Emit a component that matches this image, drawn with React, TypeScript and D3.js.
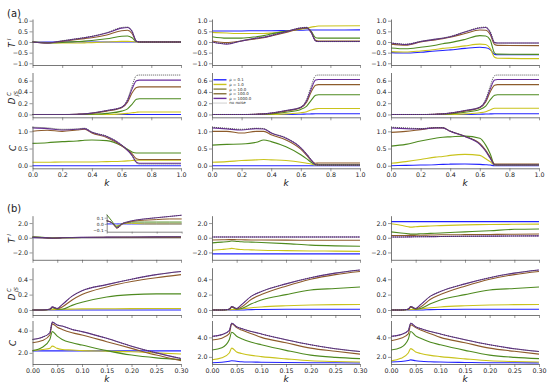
import React, { useEffect, useRef } from "react";
import * as d3 from "d3";

const SERIES = ["ρ = 0.1", "ρ = 1.0", "ρ = 10.0", "ρ = 100.0", "ρ = 1000.0", "no noise"];
const COLORS = ["#2222ff", "#c9c31c", "#4e8a1f", "#8d5b2b", "#6a2e9c", "#444444"];
const LEGEND_COLORS = ["#2222ff", "#c9c31c", "#8a8440", "#86703a", "#6a2e9c", "#888888"];

const kA = [0, 0.1, 0.2, 0.3, 0.35, 0.4, 0.5, 0.6, 0.64, 0.67, 0.7, 0.72, 1.0];
const kB = [0, 0.02, 0.035, 0.04, 0.05, 0.06, 0.08, 0.1, 0.15, 0.2, 0.25, 0.3];

const xTicksA = [0, 0.2, 0.4, 0.6, 0.8, 1.0];
const xTicksB = [0, 0.05, 0.1, 0.15, 0.2, 0.25, 0.3];
const yTicksAT = [-1, -0.5, 0, 0.5, 1];
const yTicksAD = [0, 0.2, 0.4, 0.6];
const yTicksAC = [0, 0.5, 1];
const yTicksBT = [-2, 0, 2];
const yTicksBD = [0, 0.2, 0.4];
const yTicksBC = [2, 4];
const yTicksInset = [-0.1, 0, 0.1];

// (a) T^I
const aT1 = [
  [0, 0, 0, 0, 0, 0, 0, 0, 0, 0, 0, 0, 0],
  [0, -0.03, -0.05, -0.05, -0.04, -0.03, 0, 0.03, 0.03, 0.02, 0, 0, 0],
  [0, -0.04, -0.02, 0.02, 0.04, 0.07, 0.15, 0.27, 0.28, 0.2, 0.02, 0, 0],
  [0, -0.05, 0.03, 0.12, 0.16, 0.2, 0.33, 0.53, 0.55, 0.4, 0.03, 0, 0],
  [0, -0.05, 0.05, 0.15, 0.2, 0.26, 0.42, 0.65, 0.68, 0.5, 0.03, 0, 0],
  [0, -0.04, 0.06, 0.16, 0.21, 0.27, 0.44, 0.68, 0.7, 0.52, 0.03, 0, 0],
];
const aT2 = [
  [0.52, 0.52, 0.52, 0.53, 0.53, 0.53, 0.54, 0.55, 0.56, 0.56, 0.56, 0.56, 0.57],
  [0.45, 0.42, 0.4, 0.4, 0.4, 0.42, 0.5, 0.6, 0.65, 0.7, 0.73, 0.75, 0.76],
  [0.25, 0.18, 0.18, 0.25, 0.3, 0.38, 0.5, 0.62, 0.65, 0.5, 0.2, 0.18, 0.18],
  [0.05, -0.03, 0.05, 0.15, 0.2, 0.28, 0.45, 0.63, 0.66, 0.45, 0.08, 0.05, 0.05],
  [0.0, -0.1, 0.05, 0.18, 0.22, 0.3, 0.48, 0.66, 0.68, 0.45, 0.05, 0.02, 0.02],
  [0.0, -0.08, 0.06, 0.19, 0.23, 0.31, 0.49, 0.67, 0.69, 0.5, 0.05, 0.02, 0.02],
];
const aT3 = [
  [-0.5, -0.52, -0.48, -0.42, -0.4, -0.37, -0.3, -0.25, -0.27, -0.35, -0.58, -0.6, -0.6],
  [-0.45, -0.47, -0.42, -0.35, -0.3, -0.27, -0.18, -0.1, -0.12, -0.3, -0.72, -0.76, -0.78],
  [-0.28, -0.32, -0.25, -0.15, -0.08, -0.03, 0.12, 0.3, 0.28, 0.1, -0.52, -0.57, -0.58],
  [-0.1, -0.15, 0.0, 0.1, 0.15, 0.22, 0.4, 0.56, 0.55, 0.35, -0.12, -0.16, -0.17],
  [-0.05, -0.12, 0.02, 0.13, 0.18, 0.25, 0.47, 0.66, 0.68, 0.45, -0.03, -0.05, -0.05],
  [-0.04, -0.1, 0.03, 0.14, 0.19, 0.26, 0.48, 0.68, 0.7, 0.5, -0.02, -0.05, -0.05],
];
// (a) D_JS^C
const aD1 = [
  [0, 0, 0, 0, 0, 0, 0, 0, 0, 0, 0, 0, 0],
  [0, 0, 0, 0, 0, 0, 0, 0.01, 0.02, 0.03, 0.04, 0.045, 0.045],
  [0, 0, 0, 0, 0, 0.005, 0.02, 0.06, 0.1, 0.18, 0.27, 0.28, 0.28],
  [0, 0, 0, 0.005, 0.01, 0.02, 0.06, 0.12, 0.22, 0.38, 0.48, 0.49, 0.49],
  [0, 0, 0, 0.005, 0.01, 0.025, 0.07, 0.13, 0.25, 0.45, 0.6, 0.61, 0.61],
  [0, 0, 0, 0.005, 0.01, 0.025, 0.07, 0.13, 0.27, 0.5, 0.69, 0.7, 0.7],
];
const aD2 = [
  [0, 0, 0, 0, 0, 0, 0, 0.005, 0.008, 0.01, 0.012, 0.012, 0.012],
  [0, 0, 0, 0, 0, 0, 0.01, 0.03, 0.05, 0.08, 0.1, 0.105, 0.105],
  [0, 0, 0, 0, 0.005, 0.01, 0.04, 0.09, 0.15, 0.25, 0.34, 0.35, 0.35],
  [0, 0, 0, 0.005, 0.01, 0.02, 0.06, 0.12, 0.22, 0.4, 0.52, 0.53, 0.53],
  [0, 0, 0, 0.005, 0.01, 0.025, 0.07, 0.13, 0.25, 0.45, 0.61, 0.62, 0.62],
  [0, 0, 0, 0.005, 0.01, 0.025, 0.07, 0.13, 0.27, 0.5, 0.69, 0.7, 0.7],
];
const aD3 = [
  [0, 0, 0, 0, 0, 0, 0, 0.005, 0.008, 0.01, 0.012, 0.012, 0.012],
  [0, 0, 0, 0, 0, 0, 0.01, 0.03, 0.05, 0.08, 0.11, 0.11, 0.11],
  [0, 0, 0, 0, 0.005, 0.01, 0.04, 0.09, 0.15, 0.26, 0.34, 0.35, 0.35],
  [0, 0, 0, 0.005, 0.01, 0.02, 0.06, 0.12, 0.22, 0.4, 0.52, 0.53, 0.53],
  [0, 0, 0, 0.005, 0.01, 0.025, 0.07, 0.13, 0.25, 0.45, 0.61, 0.62, 0.62],
  [0, 0, 0, 0.005, 0.01, 0.025, 0.07, 0.13, 0.27, 0.5, 0.69, 0.7, 0.7],
];
// (a) C
const aC1 = [
  [0, 0, 0, 0, 0, 0, 0, 0, 0, 0, 0, 0, 0],
  [0.1, 0.1, 0.11, 0.11, 0.11, 0.11, 0.12, 0.13, 0.14, 0.15, 0.16, 0.16, 0.16],
  [0.65, 0.67, 0.7, 0.72, 0.74, 0.75, 0.73, 0.58, 0.48, 0.4, 0.37, 0.37, 0.37],
  [1.0, 1.03, 1.0, 1.04, 1.06, 0.95, 0.82, 0.58, 0.45, 0.35, 0.2, 0.18, 0.18],
  [1.1, 1.08, 1.04, 1.06, 1.08, 0.97, 0.85, 0.6, 0.45, 0.3, 0.1, 0.07, 0.07],
  [1.12, 1.1, 1.06, 1.07, 1.09, 0.98, 0.86, 0.61, 0.46, 0.3, 0.08, 0.05, 0.05],
];
const aC2 = [
  [0, 0, 0, 0, 0, 0, 0, 0, 0, 0, 0, 0, 0],
  [0.1, 0.12, 0.15, 0.17, 0.18, 0.17, 0.15, 0.1, 0.07, 0.05, 0.02, 0.02, 0.02],
  [0.6, 0.62, 0.63, 0.68, 0.75, 0.7, 0.55, 0.32, 0.2, 0.1, 0.03, 0.03, 0.03],
  [1.0, 1.0, 0.95, 1.0, 1.0, 0.9, 0.75, 0.48, 0.3, 0.15, 0.07, 0.08, 0.08],
  [1.1, 1.07, 1.04, 1.08, 1.07, 0.95, 0.8, 0.52, 0.33, 0.17, 0.03, 0.02, 0.02],
  [1.12, 1.09, 1.06, 1.09, 1.08, 0.96, 0.81, 0.53, 0.34, 0.18, 0.03, 0.02, 0.02],
];
const aC3 = [
  [0.0, 0.01, 0.02, 0.03, 0.04, 0.045, 0.05, 0.04, 0.03, 0.02, 0.0, 0.0, 0.0],
  [0.07, 0.12, 0.18, 0.25, 0.27, 0.3, 0.33, 0.3, 0.2, 0.12, 0.02, 0.02, 0.02],
  [0.57, 0.62, 0.72, 0.8, 0.83, 0.84, 0.86, 0.8, 0.6, 0.35, 0.03, 0.03, 0.03],
  [0.97, 1.0, 1.05, 1.1, 1.1, 1.0, 0.85, 0.65, 0.45, 0.25, 0.05, 0.05, 0.05],
  [1.1, 1.08, 1.07, 1.1, 1.1, 1.0, 0.85, 0.62, 0.42, 0.22, 0.03, 0.02, 0.02],
  [1.12, 1.1, 1.08, 1.11, 1.11, 1.01, 0.86, 0.63, 0.43, 0.23, 0.03, 0.02, 0.02],
];

// (b) T^I
const bT1 = [
  [0, 0, 0, 0, 0, 0, 0, 0, 0, 0, 0, 0],
  [0.05, 0.02, -0.02, -0.03, -0.02, 0, 0.01, 0.01, 0.0, 0.0, 0.0, 0.0],
  [0.15, 0.05, -0.03, -0.04, -0.03, 0, 0.02, 0.03, 0.03, 0.03, 0.03, 0.03],
  [0.05, 0.02, -0.05, -0.07, -0.05, -0.01, 0.02, 0.04, 0.06, 0.07, 0.08, 0.08],
  [0.05, 0.02, -0.04, -0.06, -0.04, 0.0, 0.03, 0.05, 0.08, 0.1, 0.12, 0.14],
  [0.05, 0.02, -0.04, -0.06, -0.04, 0.0, 0.03, 0.05, 0.08, 0.1, 0.12, 0.14],
];
const bT2 = [
  [-2.2, -2.2, -2.2, -2.2, -2.2, -2.2, -2.2, -2.2, -2.2, -2.2, -2.2, -2.2],
  [-1.7, -1.6, -1.5, -1.45, -1.55, -1.6, -1.65, -1.7, -1.75, -1.8, -1.82, -1.85],
  [-0.7, -0.6, -0.5, -0.45, -0.5, -0.55, -0.6, -0.65, -0.8, -1.0, -1.1, -1.15],
  [-0.3, -0.28, -0.25, -0.25, -0.27, -0.28, -0.3, -0.3, -0.32, -0.35, -0.35, -0.35],
  [0.1, 0.1, 0.1, 0.1, 0.1, 0.1, 0.1, 0.1, 0.1, 0.1, 0.1, 0.1],
  [0.1, 0.1, 0.1, 0.1, 0.1, 0.1, 0.1, 0.1, 0.1, 0.1, 0.1, 0.1],
];
const bT3 = [
  [2.2, 2.2, 2.2, 2.2, 2.2, 2.2, 2.2, 2.2, 2.2, 2.2, 2.2, 2.2],
  [1.9, 1.7, 1.5, 1.45, 1.5, 1.55, 1.6, 1.65, 1.75, 1.8, 1.83, 1.85],
  [0.8, 0.65, 0.55, 0.5, 0.5, 0.55, 0.6, 0.65, 0.8, 0.95, 1.15, 1.2],
  [0.3, 0.3, 0.32, 0.32, 0.33, 0.35, 0.37, 0.4, 0.42, 0.45, 0.48, 0.5],
  [0.1, 0.1, 0.12, 0.12, 0.13, 0.14, 0.15, 0.17, 0.2, 0.22, 0.24, 0.25],
  [0.1, 0.1, 0.12, 0.12, 0.13, 0.14, 0.15, 0.17, 0.2, 0.22, 0.24, 0.25],
];
// (b) D_JS^C
const bD1 = [
  [0, 0, 0, 0, 0, 0, 0, 0, 0, 0, 0, 0],
  [0, 0, 0.003, 0.005, 0.008, 0.01, 0.012, 0.014, 0.016, 0.018, 0.019, 0.02],
  [0, 0, 0.01, 0.03, 0.01, 0.01, 0.06, 0.1, 0.17, 0.2, 0.21, 0.21],
  [0, 0, 0.01, 0.035, 0.015, 0.04, 0.13, 0.2, 0.3, 0.37, 0.42, 0.46],
  [0, 0, 0.01, 0.04, 0.02, 0.07, 0.18, 0.25, 0.33, 0.4, 0.46, 0.5],
  [0, 0, 0.01, 0.04, 0.02, 0.07, 0.18, 0.25, 0.33, 0.4, 0.46, 0.5],
];
const bD2 = [
  [0, 0, 0, 0, 0, 0, 0.005, 0.007, 0.01, 0.01, 0.01, 0.01],
  [0, 0, 0.003, 0.006, 0.008, 0.015, 0.03, 0.04, 0.055, 0.065, 0.07, 0.072],
  [0, 0, 0.01, 0.035, 0.012, 0.02, 0.08, 0.13, 0.2, 0.26, 0.28, 0.3],
  [0, 0, 0.01, 0.04, 0.015, 0.04, 0.14, 0.2, 0.31, 0.4, 0.46, 0.5],
  [0, 0, 0.01, 0.045, 0.02, 0.07, 0.18, 0.24, 0.34, 0.42, 0.48, 0.52],
  [0, 0, 0.01, 0.045, 0.02, 0.07, 0.18, 0.24, 0.34, 0.42, 0.48, 0.52],
];
const bD3 = [
  [0, 0, 0, 0, 0, 0, 0.005, 0.007, 0.01, 0.01, 0.01, 0.01],
  [0, 0, 0.003, 0.006, 0.008, 0.015, 0.03, 0.04, 0.055, 0.065, 0.07, 0.072],
  [0, 0, 0.01, 0.035, 0.012, 0.02, 0.08, 0.13, 0.2, 0.26, 0.28, 0.3],
  [0, 0, 0.01, 0.04, 0.015, 0.04, 0.14, 0.2, 0.31, 0.4, 0.46, 0.5],
  [0, 0, 0.01, 0.045, 0.02, 0.07, 0.18, 0.24, 0.34, 0.42, 0.48, 0.52],
  [0, 0, 0.01, 0.045, 0.02, 0.07, 0.18, 0.24, 0.34, 0.42, 0.48, 0.52],
];
// (b) C
const bC1 = [
  [2.18, 2.18, 2.18, 2.18, 2.18, 2.18, 2.18, 2.18, 2.18, 2.18, 2.18, 2.18],
  [2.2, 2.3, 2.4, 2.6, 2.4, 2.3, 2.25, 2.2, 2.15, 2.1, 2.0, 1.9],
  [2.2, 2.5, 3.2, 3.9, 3.5, 3.2, 2.9, 2.7, 2.2, 1.8, 1.55, 1.4],
  [2.9, 3.1, 3.6, 4.6, 4.3, 4.1, 3.8, 3.6, 3.0, 2.4, 1.8, 1.3],
  [3.2, 3.4, 3.8, 4.75, 4.5, 4.4, 4.1, 3.9, 3.3, 2.6, 2.0, 1.5],
  [3.2, 3.4, 3.8, 4.75, 4.5, 4.4, 4.1, 3.9, 3.3, 2.6, 2.0, 1.5],
];
const bC2 = [
  [1.4, 1.45, 1.55, 1.6, 1.55, 1.5, 1.47, 1.45, 1.42, 1.4, 1.4, 1.38],
  [1.7, 1.9, 2.4, 2.9, 2.5, 2.35, 2.15, 2.03, 1.8, 1.6, 1.52, 1.48],
  [2.7, 2.93, 3.76, 4.52, 4.12, 3.87, 3.5, 3.24, 2.67, 2.18, 1.95, 1.82],
  [3.73, 3.92, 4.38, 5.39, 5.0, 4.75, 4.38, 4.0, 3.45, 2.9, 2.57, 2.28],
  [4.1, 4.28, 4.7, 5.45, 5.1, 4.9, 4.6, 4.35, 3.76, 3.24, 2.83, 2.55],
  [4.1, 4.28, 4.7, 5.45, 5.1, 4.9, 4.6, 4.35, 3.76, 3.24, 2.83, 2.55],
];
const bC3 = [
  [1.48, 1.52, 1.62, 1.69, 1.6, 1.55, 1.5, 1.47, 1.43, 1.4, 1.4, 1.38],
  [1.59, 1.85, 2.4, 2.85, 2.5, 2.35, 2.15, 2.03, 1.8, 1.6, 1.52, 1.48],
  [2.7, 2.95, 3.8, 4.6, 4.15, 3.9, 3.5, 3.24, 2.67, 2.18, 1.95, 1.82],
  [3.66, 3.9, 4.35, 5.3, 5.0, 4.75, 4.38, 4.0, 3.45, 2.9, 2.57, 2.28],
  [4.1, 4.28, 4.7, 5.45, 5.1, 4.9, 4.6, 4.35, 3.76, 3.24, 2.83, 2.55],
  [4.1, 4.28, 4.7, 5.45, 5.1, 4.9, 4.6, 4.35, 3.76, 3.24, 2.83, 2.55],
];

const FONT = "DejaVu Sans, sans-serif";
const COLS: [number, number][] = [[32.5, 181], [212, 360], [391, 539]];

type Panel = {
  col: number;
  ys: [number, number];
  xd: [number, number];
  yd: [number, number];
  k: number[];
  data: number[][];
  xt: number[];
  yt: number[];
  xf: string;
  showX: boolean;
};

function drawPanel(svg: any, p: Panel) {
  const [x0, x1] = COLS[p.col];
  const x = d3.scaleLinear().domain(p.xd).range([x0, x1]);
  const y = d3.scaleLinear().domain(p.yd).range([p.ys[1], p.ys[0]]);
  const g = svg.append("g");
  const line = d3
    .line<number>()
    .x((_d, i) => x(p.k[i]))
    .y((d) => y(d))
    .curve(d3.curveMonotoneX);
  p.data.forEach((s, i) => {
    g.append("path")
      .attr("d", line(s))
      .attr("fill", "none")
      .attr("stroke", COLORS[i])
      .attr("stroke-width", i === 5 ? 0.9 : 1.1)
      .attr("stroke-dasharray", i === 5 ? "1,1" : null);
  });
  const yf = d3.format(".1f");
  const ay = g
    .append("g")
    .attr("transform", `translate(${x0},0)`)
    .call(d3.axisLeft(y).tickValues(p.yt).tickFormat((d: any) => yf(d)).tickSize(3).tickSizeOuter(0).tickPadding(1.5));
  const xf = d3.format(p.xf);
  const ax = g
    .append("g")
    .attr("transform", `translate(0,${p.ys[1]})`)
    .call(
      d3
        .axisBottom(x)
        .tickValues(p.xt)
        .tickFormat((d: any) => (p.showX ? xf(d) : ""))
        .tickSize(3)
        .tickSizeOuter(0)
        .tickPadding(1.5)
    );
  [ay, ax].forEach((a) => {
    a.select(".domain").attr("stroke", "#555").attr("stroke-width", 0.8);
    a.selectAll(".tick line").attr("stroke", "#555").attr("stroke-width", 0.6);
    a.selectAll("text").attr("font-size", 6.3).attr("font-family", FONT).attr("fill", "#222");
  });
}

function drawInset(svg: any) {
  const x = d3.scaleLinear().domain([0, 0.3]).range([106.7, 181.7]);
  const y = d3.scaleLinear().domain([-0.125, 0.155]).range([231.7, 214.3]);
  const g = svg.append("g");
  g.append("rect").attr("x", 106.7).attr("y", 214.3).attr("width", 75).attr("height", 17.4).attr("fill", "white");
  const line = d3
    .line<number>()
    .x((_d, i) => x(kB[i]))
    .y((d) => y(d))
    .curve(d3.curveMonotoneX);
  bT1.forEach((s, i) => {
    g.append("path")
      .attr("d", line(s))
      .attr("fill", "none")
      .attr("stroke", COLORS[i])
      .attr("stroke-width", i === 5 ? 0.8 : 1)
      .attr("stroke-dasharray", i === 5 ? "1,1" : null);
  });
  const yf = d3.format(".1f");
  const ay = g
    .append("g")
    .attr("transform", `translate(106.7,0)`)
    .call(d3.axisLeft(y).tickValues(yTicksInset).tickFormat((d: any) => yf(d)).tickSize(2).tickSizeOuter(0).tickPadding(1));
  const ax = g
    .append("g")
    .attr("transform", `translate(0,231.7)`)
    .call(d3.axisBottom(x).tickValues([0, 0.1, 0.2, 0.3]).tickFormat(() => "").tickSize(2).tickSizeOuter(0));
  [ay, ax].forEach((a) => {
    a.select(".domain").attr("stroke", "#555").attr("stroke-width", 0.7);
    a.selectAll(".tick line").attr("stroke", "#555").attr("stroke-width", 0.5);
    a.selectAll("text").attr("font-size", 4.3).attr("font-family", FONT).attr("fill", "#222");
  });
}

function yLabel(svg: any, cx: number, cy: number, kind: string) {
  const g = svg.append("g").attr("transform", `translate(${cx},${cy}) rotate(-90)`).attr("font-family", FONT).attr("fill", "#222");
  if (kind === "T") {
    g.append("text").attr("x", -3).attr("y", 3).attr("font-size", 8.5).attr("font-style", "italic").attr("text-anchor", "middle").text("T");
    g.append("text").attr("x", 1.8).attr("y", -1).attr("font-size", 5.5).attr("font-style", "italic").text("I");
  } else if (kind === "D") {
    g.append("text").attr("x", -6).attr("y", 3).attr("font-size", 8.5).attr("font-style", "italic").attr("text-anchor", "middle").text("D");
    g.append("text").attr("x", -1).attr("y", -1.5).attr("font-size", 5.5).attr("font-style", "italic").text("C");
    g.append("text").attr("x", -1).attr("y", 5.5).attr("font-size", 5.5).attr("font-style", "italic").text("JS");
  } else {
    g.append("text").attr("x", 0).attr("y", 3).attr("font-size", 8.5).attr("font-style", "italic").attr("text-anchor", "middle").text("C");
  }
}

export default function App() {
  const ref = useRef<SVGSVGElement>(null);
  useEffect(() => {
    const svg = d3.select(ref.current);
    svg.selectAll("*").remove();
    svg.append("rect").attr("width", 550).attr("height", 387).attr("fill", "white");

    const aRows: { ys: [number, number]; yd: [number, number]; yt: number[]; data: number[][][] }[] = [
      { ys: [19, 65], yd: [-1.08, 1.08], yt: yTicksAT, data: [aT1, aT2, aT3] },
      { ys: [72.5, 117.3], yd: [-0.05, 0.745], yt: yTicksAD, data: [aD1, aD2, aD3] },
      { ys: [126, 168.3], yd: [-0.075, 1.155], yt: yTicksAC, data: [aC1, aC2, aC3] },
    ];
    aRows.forEach((r, ri) => {
      for (let c = 0; c < 3; c++) {
        drawPanel(svg, {
          col: c, ys: r.ys, xd: [0, 1], yd: r.yd, k: kA, data: r.data[c],
          xt: xTicksA, yt: r.yt, xf: ".1f", showX: ri === 2,
        });
      }
    });
    const bRows: { ys: [number, number]; yd: [number, number][]; yt: number[]; data: number[][][] }[] = [
      { ys: [215.7, 259.8], yd: [[-3, 3], [-3, 3], [-3, 3]], yt: yTicksBT, data: [bT1, bT2, bT3] },
      { ys: [267.7, 315], yd: [[-0.065, 0.55], [-0.065, 0.55], [-0.065, 0.55]], yt: yTicksBD, data: [bD1, bD2, bD3] },
      { ys: [320.5, 364], yd: [[1.0, 4.9], [1.27, 5.73], [1.27, 5.73]], yt: yTicksBC, data: [bC1, bC2, bC3] },
    ];
    bRows.forEach((r, ri) => {
      for (let c = 0; c < 3; c++) {
        drawPanel(svg, {
          col: c, ys: r.ys, xd: [0, 0.3], yd: r.yd[c], k: kB, data: r.data[c],
          xt: xTicksB, yt: r.yt, xf: ".2f", showX: ri === 2,
        });
      }
    });
    drawInset(svg);

    // legend
    const lg = svg.append("g");
    SERIES.forEach((s, i) => {
      const yy = 79.8 + i * 4.65;
      lg.append("line").attr("x1", 213.5).attr("x2", 226.5).attr("y1", yy).attr("y2", yy)
        .attr("stroke", LEGEND_COLORS[i]).attr("stroke-width", i === 5 ? 0.8 : 1.4)
        .attr("stroke-dasharray", i === 5 ? "1,1" : null);
      lg.append("text").attr("x", 229.3).attr("y", yy + 1.4).attr("font-size", 3.9)
        .attr("font-family", FONT).attr("fill", "#222").text(s);
    });

    // labels
    svg.append("text").attr("x", 7).attr("y", 16.5).attr("font-size", 10).attr("font-family", FONT).attr("fill", "#222").text("(a)");
    svg.append("text").attr("x", 7).attr("y", 211.5).attr("font-size", 10).attr("font-family", FONT).attr("fill", "#222").text("(b)");
    yLabel(svg, 12, 42, "T");
    yLabel(svg, 12, 95, "D");
    yLabel(svg, 12.5, 148, "C");
    yLabel(svg, 12, 237.5, "T");
    yLabel(svg, 12, 291, "D");
    yLabel(svg, 12.5, 343, "C");
    COLS.forEach(([a, b]) => {
      [[186, 0], [381.5, 1]].forEach(([yy]) => {
        svg.append("text").attr("x", (a + b) / 2).attr("y", yy).attr("font-size", 9).attr("font-style", "italic")
          .attr("text-anchor", "middle").attr("font-family", FONT).attr("fill", "#222").text("k");
      });
    });
  }, []);
  return (
    <svg ref={ref} width={550} height={387} style={{ position: "absolute", left: 0, top: 0 }} />
  );
}
